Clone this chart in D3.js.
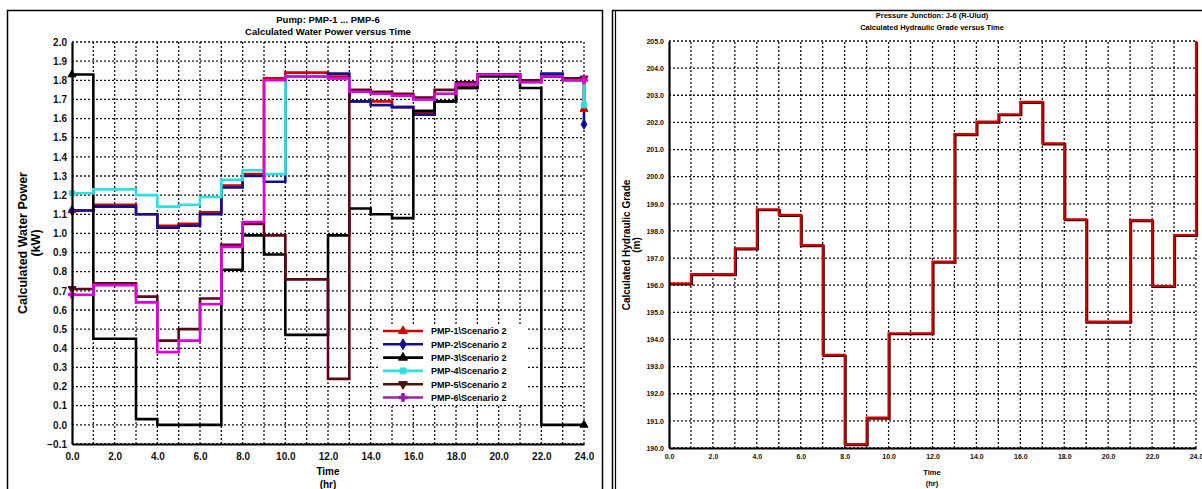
<!DOCTYPE html>
<html>
<head>
<meta charset="utf-8">
<script src="https://cdn.jsdelivr.net/npm/d3@7"></script>
<style>
  body { margin: 0; background: #fff; }
  svg { display: block; font-family: "Liberation Sans", Arial, sans-serif; font-weight: bold; }
</style>
</head>
<body>
<svg id="chart" width="1202" height="489"></svg>
<script>
// ------- data (hourly step values, last entry = value at 24 h) -------
const hours = [0,1,2,3,4,5,6,7,8,9,10,11,12,13,14,15,16,17,18,19,20,21,22,23,24];

const pmp1 = [1.12,1.15,1.15,1.10,1.04,1.05,1.11,1.25,1.31,1.81,1.84,1.84,1.82,1.69,1.69,1.66,1.63,1.69,1.77,1.83,1.83,1.80,1.82,1.81,1.65];
const pmp2 = [1.12,1.14,1.14,1.10,1.03,1.04,1.10,1.24,1.30,1.27,1.82,1.82,1.835,1.69,1.67,1.66,1.62,1.69,1.76,1.83,1.83,1.80,1.835,1.80,1.57];
const pmp3 = [1.83,0.45,0.45,0.03,0.00,0.00,0.00,0.81,0.99,0.89,0.47,0.47,0.99,1.13,1.10,1.08,1.64,1.69,1.76,1.82,1.82,1.76,0.00,0.00,0.00];
const pmp4 = [1.21,1.23,1.23,1.20,1.14,1.15,1.19,1.28,1.33,1.31,1.82,1.82,1.81,1.74,1.73,1.72,1.70,1.73,1.78,1.83,1.83,1.79,1.82,1.80,1.67];
const pmp5 = [0.71,0.74,0.74,0.67,0.44,0.50,0.66,0.94,1.05,0.99,0.76,0.76,0.24,1.75,1.74,1.73,1.71,1.75,1.79,1.83,1.83,1.80,1.82,1.81,1.81];
const pmp6 = [0.68,0.73,0.73,0.64,0.38,0.44,0.63,0.93,1.06,1.80,1.82,1.82,1.81,1.74,1.73,1.72,1.70,1.73,1.78,1.83,1.83,1.79,1.82,1.80,1.80];

const hgl = [196.07,196.41,196.41,197.36,198.80,198.59,197.48,193.43,190.14,191.12,194.23,194.23,196.87,201.57,202.03,202.30,202.76,201.23,198.43,194.66,194.66,198.40,195.97,197.85,205.0];

const powerTicks = [-0.1,0.0,0.1,0.2,0.3,0.4,0.5,0.6,0.7,0.8,0.9,1.0,1.1,1.2,1.3,1.4,1.5,1.6,1.7,1.8,1.9,2.0];
const gradeTicks = [190,191,192,193,194,195,196,197,198,199,200,201,202,203,204,205];
const timeLabels = [0,2,4,6,8,10,12,14,16,18,20,22,24];

const seriesNames = ["PMP-1\\Scenario 2","PMP-2\\Scenario 2","PMP-3\\Scenario 2","PMP-4\\Scenario 2","PMP-5\\Scenario 2","PMP-6\\Scenario 2"];
const seriesValues = [pmp1, pmp2, pmp3, pmp4, pmp5, pmp6];
const seriesColors = ["#d00000","#101090","#000000","#30dede","#5e0618","#dc00dc"];
const legendColors = ["#d00000","#101090","#000000","#30dede","#4a1208","#9a20b0"];
const seriesSymbols = [d3.symbolTriangle, d3.symbolDiamond, d3.symbolTriangle, d3.symbolSquare, d3.symbolTriangle, d3.symbolCross];
const drawOrder = [0, 1, 2, 3, 4, 5];

const svg = d3.select("#chart");

// ------- helpers -------
function grid(g, x, y, yTicks) {
  const [x0, x1] = x.range();
  const [y0, y1] = y.range();
  g.append("g")
    .selectAll("line")
    .data(yTicks)
    .join("line")
    .attr("x1", x0).attr("x2", x1)
    .attr("y1", d => y(d)).attr("y2", d => y(d))
    .attr("stroke", "#111").attr("stroke-width", 1.3)
    .attr("stroke-dasharray", "2,2");
  g.append("g")
    .selectAll("line")
    .data(hours.slice(1))
    .join("line")
    .attr("x1", d => x(d)).attr("x2", d => x(d))
    .attr("y1", y0).attr("y2", y1)
    .attr("stroke", "#111").attr("stroke-width", 1.3)
    .attr("stroke-dasharray", "2,2");
}

function axes(g, x, y, yTicks, yFmt, fs) {
  const yAxis = d3.axisLeft(y).tickValues(yTicks).tickFormat(yFmt).tickSize(0).tickPadding(5);
  const xAxis = d3.axisBottom(x).tickValues(timeLabels).tickFormat(d3.format(".1f")).tickSize(0).tickPadding(fs * 0.9);
  g.append("g")
    .attr("transform", `translate(${x.range()[0]},0)`)
    .call(yAxis)
    .call(a => a.select(".domain").attr("stroke", "#000").attr("stroke-width", 2.2))
    .call(a => a.selectAll("text").attr("font-size", fs).attr("font-weight", "bold").attr("fill", "#111"));
  g.append("g")
    .attr("transform", `translate(0,${y.range()[0]})`)
    .call(xAxis)
    .call(a => a.select(".domain").attr("stroke", "#000").attr("stroke-width", 2.2))
    .call(a => a.selectAll("text").attr("font-size", fs).attr("font-weight", "bold").attr("fill", "#111"));
}

// ------- left: pump water power -------
const xL = d3.scaleLinear().domain([0, 24]).range([72, 584]);
const yL = d3.scaleLinear().domain([-0.1, 2.0]).range([444, 42]);

svg.append("rect").attr("x", 7.5).attr("y", 10.5).attr("width", 595).attr("height", 500)
  .attr("fill", "none").attr("stroke", "#000").attr("stroke-width", 1.5);

const gL = svg.append("g");
grid(gL, xL, yL, powerTicks);

const lineL = d3.line()
  .x((d, i) => xL(hours[i]))
  .y(d => yL(d))
  .curve(d3.curveStepAfter);

drawOrder.forEach(k => {
  gL.append("path")
    .attr("d", lineL(seriesValues[k]))
    .attr("fill", "none")
    .attr("stroke", seriesColors[k])
    .attr("stroke-width", 2.6);
});
drawOrder.forEach(k => {
  [0, 24].forEach(i => {
    gL.append("path")
      .attr("d", d3.symbol().type(seriesSymbols[k]).size(28)())
      .attr("transform", `translate(${xL(hours[i])},${yL(seriesValues[k][i])})${k === 4 ? " rotate(180)" : ""}`)
      .attr("fill", seriesColors[k])
      .attr("stroke", seriesColors[k]);
  });
});

axes(gL, xL, yL, powerTicks, d3.format(".1f"), 10);

gL.append("text").attr("x", 328).attr("y", 23).attr("text-anchor", "middle").attr("font-size", 9.5).text("Pump: PMP-1 ... PMP-6");
gL.append("text").attr("x", 328).attr("y", 35).attr("text-anchor", "middle").attr("font-size", 9.5).text("Calculated Water Power versus Time");
gL.append("text").attr("transform", "translate(27,243) rotate(-90)").attr("text-anchor", "middle").attr("font-size", 12.5).text("Calculated Water Power");
gL.append("text").attr("transform", "translate(40,243) rotate(-90)").attr("text-anchor", "middle").attr("font-size", 12.5).text("(kW)");
gL.append("text").attr("x", 328).attr("y", 475).attr("text-anchor", "middle").attr("font-size", 10).text("Time");
gL.append("text").attr("x", 328).attr("y", 488).attr("text-anchor", "middle").attr("font-size", 10).text("(hr)");

// legend
const leg = gL.append("g");
leg.append("rect").attr("x", 380).attr("y", 324).attr("width", 148).attr("height", 80).attr("fill", "#fff");
seriesNames.forEach((name, i) => {
  const ly = 331 + i * 13.3;
  leg.append("line").attr("x1", 383).attr("x2", 423).attr("y1", ly).attr("y2", ly)
    .attr("stroke", legendColors[i]).attr("stroke-width", 2.6);
  leg.append("path")
    .attr("d", d3.symbol().type(seriesSymbols[i]).size(34)())
    .attr("transform", `translate(403,${ly})${i === 4 ? " rotate(180)" : ""}`)
    .attr("fill", legendColors[i]).attr("stroke", legendColors[i]);
  leg.append("text").attr("x", 431).attr("y", ly + 3.3).attr("font-size", 9).text(name);
});

// ------- right: hydraulic grade -------
const xR = d3.scaleLinear().domain([0, 24]).range([669, 1196]);
const yR = d3.scaleLinear().domain([190, 205]).range([448, 41]);

svg.append("rect").attr("x", 612.5).attr("y", 10.5).attr("width", 600).attr("height", 500)
  .attr("fill", "none").attr("stroke", "#000").attr("stroke-width", 1.5);
svg.append("line").attr("x1", 615.5).attr("x2", 615.5).attr("y1", 10).attr("y2", 489)
  .attr("stroke", "#000").attr("stroke-width", 1.2);

const gR = svg.append("g");
grid(gR, xR, yR, gradeTicks);

const lineR = d3.line()
  .x((d, i) => xR(hours[i]))
  .y(d => yR(d))
  .curve(d3.curveStepAfter);

gR.append("path").attr("d", lineR(hgl)).attr("fill", "none")
  .attr("stroke", "#3a0000").attr("stroke-width", 2.4).attr("transform", "translate(0.9,0.9)");
gR.append("path").attr("d", lineR(hgl)).attr("fill", "none")
  .attr("stroke", "#cc0000").attr("stroke-width", 2.2);

axes(gR, xR, yR, gradeTicks, d3.format(".1f"), 7);

gR.append("text").attr("x", 932).attr("y", 18).attr("text-anchor", "middle").attr("font-size", 7.5).text("Pressure Junction: J-6 (R-Ulud)");
gR.append("text").attr("x", 932).attr("y", 30).attr("text-anchor", "middle").attr("font-size", 7.5).text("Calculated Hydraulic Grade versus Time");
gR.append("text").attr("transform", "translate(630,245) rotate(-90)").attr("text-anchor", "middle").attr("font-size", 10).text("Calculated Hydraulic Grade");
gR.append("text").attr("transform", "translate(640,245) rotate(-90)").attr("text-anchor", "middle").attr("font-size", 10).text("(m)");
gR.append("text").attr("x", 932).attr("y", 475).attr("text-anchor", "middle").attr("font-size", 7.5).text("Time");
gR.append("text").attr("x", 932).attr("y", 486).attr("text-anchor", "middle").attr("font-size", 7.5).text("(hr)");
</script>
</body>
</html>
